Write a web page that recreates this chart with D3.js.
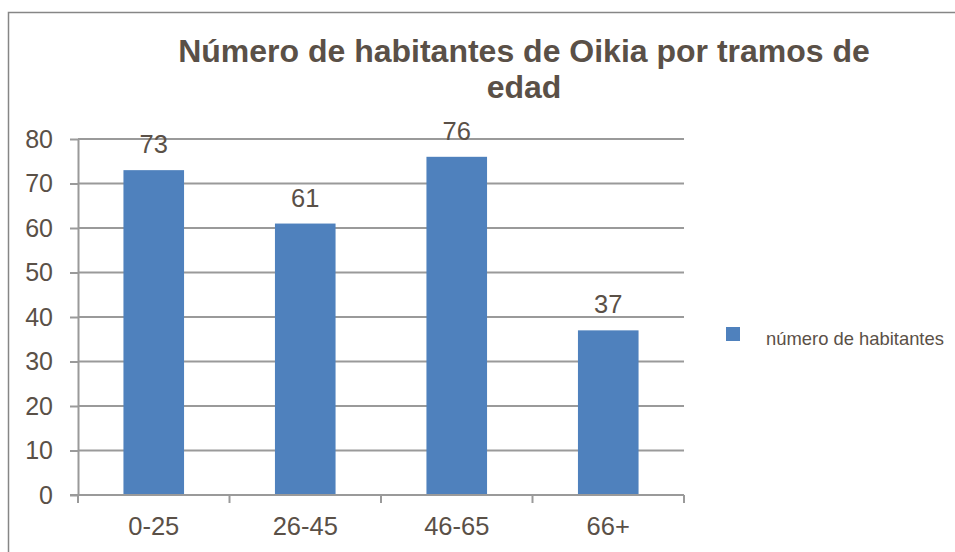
<!DOCTYPE html>
<html>
<head>
<meta charset="utf-8">
<script src="https://cdn.jsdelivr.net/npm/d3@7"></script>
<style>
  html, body { margin: 0; padding: 0; background: #fff; }
  svg { display: block; }
  text { font-family: "Liberation Sans", Arial, sans-serif; fill: #5a5047; }
</style>
</head>
<body>
<svg id="chart" width="955" height="552"></svg>
<script>
const titleLines = ["Número de habitantes de Oikia por tramos de", "edad"];
const categories = ["0-25", "26-45", "46-65", "66+"];
const values = [73, 61, 76, 37];
const yTicks = [0, 10, 20, 30, 40, 50, 60, 70, 80];
const seriesName = "número de habitantes";

(function () {
const svg = d3.select("#chart");
const W = 955, H = 552;
const plotLeft = 78, plotRight = 684, plotTop = 139, plotBottom = 495;
const textColor = "#5a5047";
const barColor = "#4f81bd";
const gridColor = "#9a9a9a";

svg.append("rect").attr("width", W).attr("height", H).attr("fill", "#fff");
// outer chart border (extends past right/bottom edge)
svg.append("rect")
  .attr("x", 8.5).attr("y", 12.5).attr("width", 980).attr("height", 580)
  .attr("fill", "none").attr("stroke", "#868686").attr("stroke-width", 1.5);

// title
svg.append("text")
  .attr("text-anchor", "middle")
  .attr("font-weight", "bold")
  .attr("font-size", 32)
  .selectAll("tspan").data(titleLines).join("tspan")
  .attr("x", 524)
  .attr("y", (d, i) => 62 + i * 36)
  .text(d => d);

const x = d3.scaleBand().domain(categories).range([plotLeft, plotRight]).padding(0);
const y = d3.scaleLinear().domain([0, 80]).range([plotBottom, plotTop]);

// y axis
const yAxis = d3.axisLeft(y).tickValues(yTicks).tickSize(8).tickSizeOuter(0).tickPadding(17);
const gy = svg.append("g").attr("transform", `translate(${plotLeft},0)`).call(yAxis);
gy.select(".domain").attr("stroke", gridColor).attr("stroke-width", 2);
gy.selectAll(".tick line").attr("stroke", gridColor).attr("stroke-width", 2);
gy.selectAll(".tick text").attr("font-size", 25).attr("fill", textColor)
  .attr("font-family", "Liberation Sans, Arial, sans-serif");

// gridlines
svg.append("g").selectAll("line").data(yTicks.filter(t => t > 0)).join("line")
  .attr("x1", plotLeft).attr("x2", plotRight)
  .attr("y1", d => y(d)).attr("y2", d => y(d))
  .attr("stroke", gridColor).attr("stroke-width", 2);

// bars
const barW = x.bandwidth() * 0.4;
svg.append("g").selectAll("rect").data(values).join("rect")
  .attr("x", (d, i) => x(categories[i]) + (x.bandwidth() - barW) / 2)
  .attr("y", d => y(d))
  .attr("width", barW)
  .attr("height", d => y(0) - y(d))
  .attr("fill", barColor);

// x axis
const xAxisG = svg.append("g");
xAxisG.append("line")
  .attr("x1", plotLeft - 8).attr("x2", plotRight)
  .attr("y1", y(0)).attr("y2", y(0))
  .attr("stroke", gridColor).attr("stroke-width", 2);
const boundaries = categories.map(c => x(c)).concat([x(categories[categories.length - 1]) + x.bandwidth()]);
xAxisG.selectAll("line.tk").data(boundaries).join("line").attr("class", "tk")
  .attr("x1", d => d).attr("x2", d => d)
  .attr("y1", y(0)).attr("y2", y(0) + 8)
  .attr("stroke", gridColor).attr("stroke-width", 2);
svg.append("g").selectAll("text").data(categories).join("text")
  .attr("x", d => x(d) + x.bandwidth() / 2)
  .attr("y", 535)
  .attr("text-anchor", "middle")
  .attr("font-size", 25.5)
  .text(d => d);

// value labels
svg.append("g").selectAll("text").data(values).join("text")
  .attr("x", (d, i) => x(categories[i]) + x.bandwidth() / 2)
  .attr("y", d => y(d) - 17)
  .attr("text-anchor", "middle")
  .attr("font-size", 25.5)
  .text(d => d);

// legend
svg.append("rect").attr("x", 726).attr("y", 327).attr("width", 14).attr("height", 14).attr("fill", barColor);
svg.append("text").attr("x", 766).attr("y", 345).attr("font-size", 18.4).text(seriesName);
})();
</script>
</body>
</html>
